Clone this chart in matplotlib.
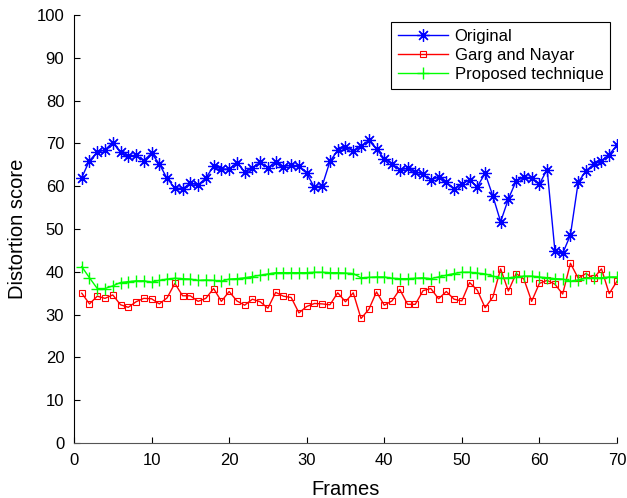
import numpy as np
import matplotlib
matplotlib.use("Agg")
import matplotlib.pyplot as plt

plt.rcParams['font.family'] = ['Liberation Sans', 'DejaVu Sans']

frames = np.arange(1, 71)

original = [62, 66, 67.9, 68.5, 70.2, 67.9, 67, 67.2, 66, 67.7,
            65.2, 61.8, 59.6, 59.4, 60.7, 60.3, 61.9, 64.7, 64, 64,
            65.5, 63.4, 64.3, 65.6, 64.3, 65.7, 64.6, 64.9, 64.7, 63,
            59.7, 60.1, 65.8, 68.4, 69.2, 68.2, 69.3, 70.7, 68.7, 66.4,
            65.3, 63.8, 64.2, 63.4, 62.8, 61.5, 62.1, 61, 59.3, 60.6,
            61.4, 59.9, 63, 57.7, 51.7, 57, 61.2, 62.1, 61.9, 60.5,
            63.9, 44.9, 44.3, 48.6, 60.9, 63.6, 65.1, 65.9, 67.4, 69.6]

garg = [35, 32.5, 34.3, 33.8, 34.6, 32.3, 31.7, 33, 33.8, 33.7,
        32.5, 33.9, 37.3, 34.4, 34.4, 33.1, 33.8, 36.1, 33.1, 35.4,
        33.2, 32.2, 33.6, 33, 31.5, 35.2, 34.3, 34, 30.4, 31.9,
        32.6, 32.5, 32.3, 35.1, 33, 35.1, 29.1, 31.2, 35.3, 32.2,
        33.2, 35.9, 32.4, 32.4, 35.6, 36.1, 33.7, 35.4, 33.6, 33.2,
        37.5, 35.7, 31.6, 34.1, 40.7, 35.5, 39.6, 38.3, 33.1, 37.3,
        38, 37.1, 34.8, 42, 38.5, 39.6, 38.5, 40.7, 34.9, 37.8]

proposed = [41.2, 38.6, 36.1, 36.1, 36.7, 37.5, 37.7, 37.9, 37.9, 37.6,
            38, 38.3, 38.5, 38.4, 38.3, 38, 38.1, 38, 37.8, 38.3,
            38.4, 38.6, 38.9, 39.2, 39.5, 39.8, 39.8, 39.8, 39.8, 39.8,
            39.9, 39.9, 39.8, 39.8, 39.7, 39.6, 38.6, 38.7, 38.8, 38.8,
            38.5, 38.4, 38.4, 38.5, 38.6, 38.4, 38.8, 39.2, 39.6, 39.9,
            39.9, 39.7, 39.5, 39, 38.5, 38.6, 38.8, 39, 39, 38.8,
            38.6, 38.4, 38.3, 37.8, 38.1, 38.5, 38.6, 38.6, 38.8, 38.8]

fig = plt.figure(figsize=(6.27, 4.98), dpi=100)
ax = fig.add_axes([0.118, 0.1104, 0.866, 0.8595])

# matlab style asterisk marker
ax.plot(frames, original, color=(0, 0, 1), marker=(8, 2, 0), markersize=9, lw=1,
        markeredgewidth=0.9, label='Original')
ax.plot(frames, garg, color=(1, 0, 0), marker='s', markersize=4.5, lw=1,
        markerfacecolor='none', markeredgewidth=0.8, label='Garg and Nayar')
ax.plot(frames, proposed, color=(0, 1, 0), marker='+', markersize=9, lw=1,
        markeredgewidth=1, label='Proposed technique')

ax.set_xlim(0, 70)
ax.set_ylim(0, 100)
ax.set_xticks(range(0, 71, 10))
ax.set_yticks(range(0, 101, 10))
ax.spines['top'].set_visible(False)
ax.spines['right'].set_visible(False)
ax.spines['bottom'].set_color('#555555')
ax.tick_params(direction='in', labelsize=12, length=4, pad=7)
ax.set_xlabel('Frames', fontsize=14.5, labelpad=9)
ax.set_ylabel('Distortion score', fontsize=14.5, labelpad=7)

leg = ax.legend(loc='upper right', fontsize=12, numpoints=1, handlelength=3.0,
                handletextpad=0.4, fancybox=False, framealpha=1,
                edgecolor='black', borderaxespad=0.42, labelspacing=0.25,
                borderpad=0.4)
leg.get_frame().set_linewidth(0.8)

fig.savefig('out.png', dpi=100)
